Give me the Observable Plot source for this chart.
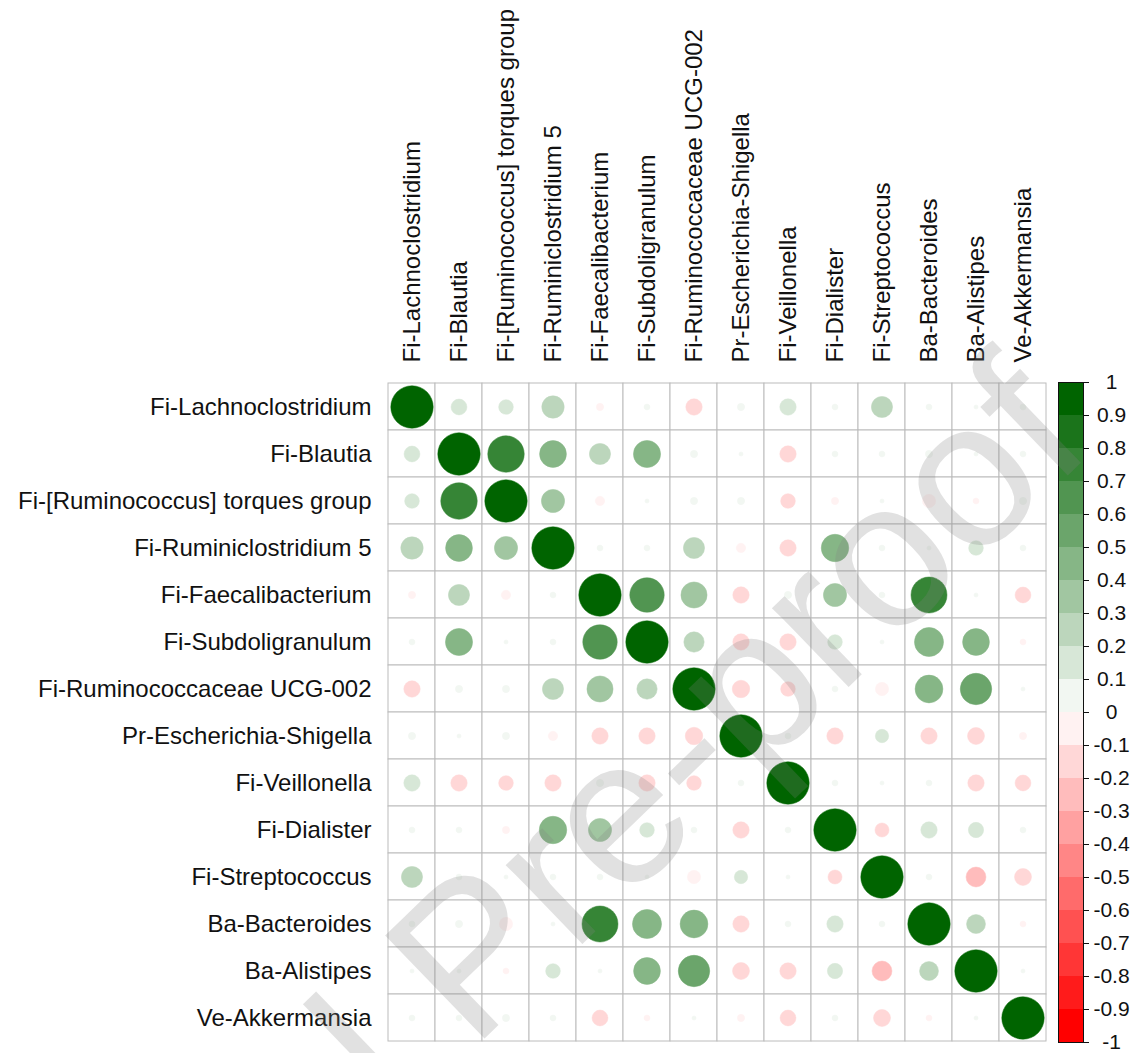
<!DOCTYPE html>
<html>
<head>
<meta charset="utf-8">
<script src="https://cdn.jsdelivr.net/npm/d3@7"></script>
<script src="https://cdn.jsdelivr.net/npm/@observablehq/plot@0.6"></script>
<style>
  html, body { margin: 0; padding: 0; background: #fff; }
  #wrap { position: relative; width: 1136px; height: 1053px; overflow: hidden; background: #fff; }
  #main { position: absolute; left: 0; top: 0; }
  #legend { position: absolute; left: 1057px; top: 0; }
  #wm { position: absolute; left: 0; top: 0; pointer-events: none; }
</style>
</head>
<body>
<div id="wrap">
  <div id="main"></div>
  <div id="legend"></div>
  <svg id="wm" width="1136" height="1053"></svg>
</div>
<script>
// ---- data ----
const taxa = [
  "Fi-Lachnoclostridium",
  "Fi-Blautia",
  "Fi-[Ruminococcus] torques group",
  "Fi-Ruminiclostridium 5",
  "Fi-Faecalibacterium",
  "Fi-Subdoligranulum",
  "Fi-Ruminococcaceae UCG-002",
  "Pr-Escherichia-Shigella",
  "Fi-Veillonella",
  "Fi-Dialister",
  "Fi-Streptococcus",
  "Ba-Bacteroides",
  "Ba-Alistipes",
  "Ve-Akkermansia"
];

const rLachnoclostridium = [1, 0.14, 0.12, 0.28, -0.03, 0.02, -0.15, 0.03, 0.15, 0.02, 0.25, 0.02, 0.01, 0.02];
const rBlautia           = [0.14, 1, 0.74, 0.40, 0.25, 0.41, 0.03, 0.01, -0.15, 0.02, 0.02, 0.03, 0.01, 0.02];
const rTorques           = [0.12, 0.74, 1, 0.30, -0.05, 0.01, 0.03, 0.03, -0.12, -0.03, 0.01, -0.10, -0.02, 0.03];
const rRuminiclostridium = [0.28, 0.40, 0.30, 1, 0.02, 0.02, 0.25, -0.05, -0.15, 0.42, 0.02, 0.01, 0.12, 0.02];
const rFaecalibacterium  = [-0.03, 0.25, -0.05, 0.02, 1, 0.66, 0.38, -0.15, 0.03, 0.30, 0.02, 0.72, 0.01, -0.14];
const rSubdoligranulum   = [0.02, 0.41, 0.01, 0.02, 0.66, 1, 0.23, -0.15, -0.15, 0.12, 0.01, 0.47, 0.40, -0.02];
const rUCG002            = [-0.15, 0.03, 0.03, 0.25, 0.38, 0.23, 1, -0.17, -0.12, 0.02, -0.10, 0.43, 0.55, 0.01];
const rEscherichia       = [0.03, 0.01, 0.03, -0.05, -0.15, -0.15, -0.17, 1, 0.02, -0.15, 0.10, -0.15, -0.16, -0.03];
const rVeillonella       = [0.15, -0.15, -0.12, -0.15, 0.03, -0.15, -0.12, 0.02, 1, 0.02, 0.01, 0.02, -0.15, -0.14];
const rDialister         = [0.02, 0.02, -0.03, 0.42, 0.30, 0.12, 0.02, -0.15, 0.02, 1, -0.11, 0.15, 0.13, 0.02];
const rStreptococcus     = [0.25, 0.02, 0.01, 0.02, 0.02, 0.01, -0.10, 0.10, 0.01, -0.11, 1, 0.02, -0.22, -0.16];
const rBacteroides       = [0.02, 0.03, -0.10, 0.01, 0.72, 0.47, 0.43, -0.15, 0.02, 0.15, 0.02, 1, 0.20, -0.02];
const rAlistipes         = [0.01, 0.01, -0.02, 0.12, 0.01, 0.40, 0.55, -0.16, -0.15, 0.13, -0.22, 0.20, 1, 0.01];
const rAkkermansia       = [0.02, 0.02, 0.03, 0.02, -0.14, -0.02, 0.01, -0.03, -0.14, 0.02, -0.16, -0.02, 0.01, 1];

const corrRows = [rLachnoclostridium, rBlautia, rTorques, rRuminiclostridium, rFaecalibacterium,
  rSubdoligranulum, rUCG002, rEscherichia, rVeillonella, rDialister, rStreptococcus,
  rBacteroides, rAlistipes, rAkkermansia];

// colour legend: 20 bins from -1 to 1, tick labels
const legendBreaks = [-1, -0.9, -0.8, -0.7, -0.6, -0.5, -0.4, -0.3, -0.2, -0.1, 0,
  0.1, 0.2, 0.3, 0.4, 0.5, 0.6, 0.7, 0.8, 0.9, 1];
const legendTicks = [1, 0.9, 0.8, 0.7, 0.6, 0.5, 0.4, 0.3, 0.2, 0.1, 0,
  -0.1, -0.2, -0.3, -0.4, -0.5, -0.6, -0.7, -0.8, -0.9, -1];
const rampColors = ["red", "white", "darkgreen"];
const watermark = "Journal Pre-proof";

// ---- build ----
const palette = d3.quantize(d3.piecewise(d3.interpolateRgb, rampColors), legendBreaks.length - 1);
const thresholds = legendBreaks.slice(1, -1);
const colorScale = {type: "threshold", domain: thresholds, range: palette};

const cells = [];
taxa.forEach((rowName, i) => taxa.forEach((colName, j) => {
  cells.push({row: rowName, col: colName, v: corrRows[i][j]});
}));

const bins = legendBreaks.slice(0, -1).map((lo, k) => ({lo, hi: legendBreaks[k + 1], mid: (lo + legendBreaks[k + 1]) / 2}));

const font = "'Liberation Sans', Arial, Helvetica, sans-serif";

const main = Plot.plot({
  width: 1050,
  height: 1053,
  marginTop: 382,
  marginLeft: 387,
  marginRight: 4,
  marginBottom: 11,
  x: {domain: taxa, padding: 0, axis: null},
  y: {domain: taxa, padding: 0, axis: null},
  color: colorScale,
  r: {domain: [0, 1], range: [0, 21.2]},
  style: {fontFamily: font, background: "transparent", color: "#111"},
  marks: [
    Plot.cell(cells, {x: "col", y: "row", fill: "white", stroke: "#bcbcbc", strokeWidth: 1, inset: 0}),
    Plot.dot(cells, {x: "col", y: "row", r: d => Math.abs(d.v), fill: "v", stroke: "v", strokeWidth: 0.5}),
    Plot.axisX({anchor: "top", label: null, tickRotate: -90, tickSize: 0, tickPadding: 20, fontSize: 24, fill: "#111"}),
    Plot.axisY({anchor: "left", label: null, tickSize: 0, tickPadding: 16, fontSize: 24, fill: "#111"})
  ]
});
document.getElementById("main").appendChild(main);

const legend = Plot.plot({
  width: 79,
  height: 1053,
  marginTop: 382,
  marginBottom: 11,
  marginLeft: 1,
  marginRight: 53,
  x: {domain: [0, 1], axis: null},
  y: {domain: [-1, 1], axis: null},
  color: colorScale,
  style: {fontFamily: font, background: "transparent", color: "#111"},
  marks: [
    Plot.rect(bins, {x1: () => 0, x2: () => 1, y1: "lo", y2: "hi", fill: "mid", shapeRendering: "crispEdges"}),
    Plot.frame({stroke: "#111", strokeWidth: 1}),
    Plot.axisY(legendTicks, {anchor: "right", label: null, tickSize: 5, tickPadding: 23, textAnchor: "middle",
      tickFormat: d => String(Math.round(d * 10) / 10), fontSize: 21, fill: "#111", stroke: "#111"})
  ]
});
document.getElementById("legend").appendChild(legend);

// "Journal Pre-proof" watermark overlay
const wm = d3.select("#wm");
wm.append("text")
  .attr("x", 1096).attr("y", 448)
  .attr("transform", "rotate(-44 1096 448)")
  .attr("text-anchor", "end")
  .attr("font-family", font)
  .attr("font-size", 208)
  .attr("fill", "rgba(128,128,128,0.24)")
  .text(watermark);
</script>
</body>
</html>
